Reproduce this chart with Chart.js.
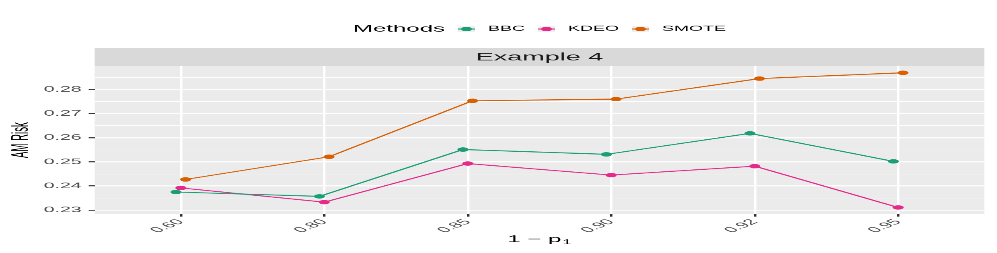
<!DOCTYPE html>
<html lang="en">
<head>
  <meta charset="UTF-8" />
  <title>Example 4 | AM Risk</title>
  <style>
    html, body { margin: 0; padding: 0; background: #ffffff; overflow: hidden; }
    #wrap { width: 997px; height: 253px; overflow: hidden; }
    /* the reference is squashed vertically, so draw tall and squash */
    #chart { display: block; transform: scaleY(0.40032); transform-origin: 0 0; }
  </style>
</head>
<body>
  <div id="wrap"><canvas id="chart" width="997" height="632"></canvas></div>

  <script src="https://cdn.jsdelivr.net/npm/chart.js"></script>
  <script>
    // data
    const categories = ['0.60', '0.80', '0.85', '0.90', '0.92', '0.95'];
    const methods = ['BBC', 'KDEO', 'SMOTE'];
    const bbc = [0.2375, 0.2357, 0.2551, 0.2531, 0.2618, 0.2502];
    const kdeo = [0.2392, 0.2333, 0.2493, 0.2445, 0.2482, 0.2311];
    const smote = [0.2427, 0.2521, 0.2753, 0.2760, 0.2845, 0.2869];
    const yTickLabels = ['0.23', '0.24', '0.25', '0.26', '0.27', '0.28'];

    const series = [bbc, kdeo, smote];
    const colors = ['#1B9E77', '#E7298A', '#D95F02'];
    const dodge = [-0.0333, 0, 0.0333];
    const FONT = "'Liberation Sans', Arial, Helvetica, sans-serif";

    // ggplot style 5% expansion on y
    const all = series.flat();
    const lo = Math.min(...all), hi = Math.max(...all);
    const yMin = lo - 0.05 * (hi - lo), yMax = hi + 0.05 * (hi - lo);

    // major + minor breaks
    const yBreaks = [];
    yTickLabels.forEach((t, i) => {
      const v = parseFloat(t);
      yBreaks.push(v);
      if (i < yTickLabels.length) yBreaks.push(v + 0.005);
    });
    const isMajor = v => yTickLabels.includes(v.toFixed(2)) && Math.abs(v - parseFloat(v.toFixed(2))) < 1e-6;

    const ggDecor = {
      id: 'ggDecor',
      beforeDraw(chart) {
        const { ctx, chartArea: a } = chart;
        ctx.save();
        ctx.fillStyle = '#EBEBEB';
        ctx.fillRect(a.left, a.top, a.right - a.left, a.bottom - a.top);
        // facet strip
        ctx.fillStyle = '#D9D9D9';
        ctx.fillRect(a.left, 120, a.right - a.left, a.top - 120);
        ctx.fillStyle = '#1A1A1A';
        ctx.font = '27px ' + FONT;
        ctx.textAlign = 'center';
        ctx.textBaseline = 'middle';
        ctx.fillText('Example 4', (a.left + a.right) / 2, (120 + a.top) / 2 + 1);
        ctx.restore();
      },
      afterDraw(chart) {
        const { ctx, chartArea: a } = chart;
        const cx = (a.left + a.right) / 2;
        ctx.save();
        ctx.textBaseline = 'middle';
        ctx.textAlign = 'left';

        // legend on top
        const ly = 72.5;
        ctx.font = '24px ' + FONT;
        const titleW = ctx.measureText('Methods').width;
        ctx.font = '18px ' + FONT;
        const keyW = 17, keyH = 14, gap = 13;
        let total = titleW + gap;
        methods.forEach((m, i) => {
          total += keyW + gap + ctx.measureText(m).width;
          if (i < methods.length - 1) total += gap;
        });
        let x = cx - total / 2;
        ctx.fillStyle = '#000000';
        ctx.font = '24px ' + FONT;
        ctx.fillText('Methods', x, ly);
        x += titleW + gap;
        ctx.font = '18px ' + FONT;
        methods.forEach((m, i) => {
          ctx.fillStyle = '#EEEEEE';
          ctx.fillRect(x, ly - keyH / 2, keyW, keyH);
          ctx.strokeStyle = colors[i];
          ctx.lineWidth = 2.4;
          ctx.beginPath();
          ctx.moveTo(x, ly);
          ctx.lineTo(x + keyW, ly);
          ctx.stroke();
          ctx.fillStyle = colors[i];
          ctx.beginPath();
          ctx.arc(x + keyW / 2, ly, 5.5, 0, Math.PI * 2);
          ctx.fill();
          x += keyW + gap;
          ctx.fillStyle = '#000000';
          ctx.fillText(m, x, ly);
          x += ctx.measureText(m).width + gap;
        });

        // y axis title
        ctx.save();
        ctx.translate(21.7, (a.top + a.bottom) / 2);
        ctx.rotate(-Math.PI / 2);
        ctx.textAlign = 'center';
        ctx.font = '24px ' + FONT;
        ctx.fillStyle = '#000000';
        ctx.fillText('AM Risk', 0, 0);
        ctx.restore();

        // x axis title: 1 - p with subscript 1
        ctx.font = '24px ' + FONT;
        const main = '1 \u2212 p';
        const mw = ctx.measureText(main).width;
        ctx.font = '17px ' + FONT;
        const sw = ctx.measureText('1').width;
        let tx = cx - (mw + sw + 1) / 2;
        const ty = 598;
        ctx.fillStyle = '#000000';
        ctx.font = '24px ' + FONT;
        ctx.fillText(main, tx, ty);
        ctx.font = '17px ' + FONT;
        ctx.fillText('1', tx + mw + 1, ty + 7);
        ctx.restore();
      }
    };

    new Chart(document.getElementById('chart'), {
      type: 'scatter',
      data: {
        datasets: methods.map((m, k) => ({
          label: m,
          data: series[k].map((v, i) => ({ x: i + dodge[k], y: v })),
          showLine: true,
          borderColor: colors[k],
          backgroundColor: colors[k],
          borderWidth: 2.4,
          pointRadius: 5.5,
          pointHoverRadius: 5.5,
          pointBorderWidth: 0
        }))
      },
      options: {
        responsive: false,
        animation: false,
        devicePixelRatio: 1,
        layout: { padding: { top: 165, right: 12.7, left: 0, bottom: 0 } },
        plugins: { legend: { display: false }, tooltip: { enabled: false } },
        scales: {
          x: {
            type: 'linear',
            min: -0.6,
            max: 5.6,
            afterBuildTicks: s => { s.ticks = categories.map((c, i) => ({ value: i })); },
            afterFit: s => { s.height = 97; },
            border: { display: false },
            grid: {
              color: '#FFFFFF',
              lineWidth: 2.4,
              tickColor: '#333333',
              tickLength: 6,
              tickWidth: 2.4
            },
            ticks: {
              autoSkip: false,
              minRotation: 45,
              maxRotation: 45,
              padding: 2,
              color: '#4D4D4D',
              font: { family: FONT, size: 19.5 },
              callback: v => categories[v]
            }
          },
          y: {
            min: yMin,
            max: yMax,
            afterBuildTicks: s => { s.ticks = yBreaks.filter(v => v >= yMin && v <= yMax).map(v => ({ value: v })); },
            afterFit: s => { s.width = 94.7; },
            border: { display: false },
            grid: {
              color: '#FFFFFF',
              lineWidth: c => (c.tick && isMajor(c.tick.value)) ? 2.4 : 1.2,
              tickColor: c => (c.tick && isMajor(c.tick.value)) ? '#333333' : 'rgba(0,0,0,0)',
              tickLength: 6,
              tickWidth: 2.4
            },
            ticks: {
              padding: 7,
              color: '#4D4D4D',
              font: { family: FONT, size: 19.5 },
              callback: v => isMajor(v) ? v.toFixed(2) : ''
            }
          }
        }
      },
      plugins: [ggDecor]
    });
  </script>
</body>
</html>
